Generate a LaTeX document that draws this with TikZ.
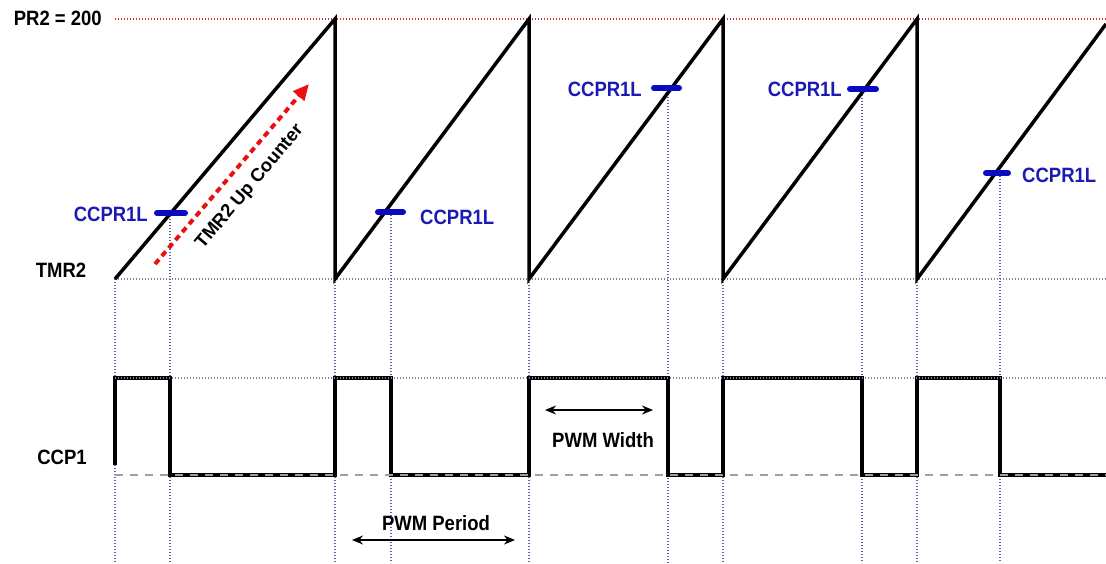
\documentclass[tikz,border=0pt]{standalone}
\usepackage{fontspec}
\setmainfont{Liberation Sans}
\usetikzlibrary{arrows.meta}
\definecolor{mkblue}{HTML}{0A0AC0}
\definecolor{txblue}{HTML}{1A1AB4}
\definecolor{guideblue}{HTML}{6060A8}
\definecolor{guidegray}{HTML}{8080A0}
\definecolor{dashgray}{HTML}{A0A0A0}
\definecolor{prred}{HTML}{D03030}
\definecolor{arrred}{HTML}{E81010}
\newcommand{\tx}[1]{\scalebox{1}[1.12]{#1}}
\begin{document}
\begin{tikzpicture}[x=1pt,y=-1pt,
  lbl/.style={font=\fontsize{18.5}{20}\selectfont\bfseries, inner sep=0pt},
  bluelbl/.style={lbl, text=txblue},
  wave/.style={line width=3.5pt, black, line join=miter},
  marker/.style={line width=6pt, mkblue, line cap=round},
  vguide/.style={guideblue, line width=1.3pt, dash pattern=on 1.3pt off 1.7pt},
  hguide/.style={guidegray, line width=1.3pt, dash pattern=on 1.3pt off 1.7pt},
  lowguide/.style={dashgray, line width=1.4pt, dash pattern=on 8pt off 7pt},
  dimarrow/.style={line width=1.7pt, black, {Stealth[length=11pt,width=9pt]}-{Stealth[length=11pt,width=9pt]}}
]
\useasboundingbox (0,0) rectangle (1106,563);

% key abscissae
\coordinate (t0) at (115,279);
\coordinate (t1) at (335,279);
\coordinate (t2) at (529,279);
\coordinate (t3) at (723,279);
\coordinate (t4) at (917,279);
\coordinate (tend) at (1106,279);
\coordinate (p1) at (335,19);
\coordinate (p2) at (529,19);
\coordinate (p3) at (723,19);
\coordinate (p4) at (917,19);
\coordinate (p5) at (1106,24);
\coordinate (prs) at (115,19);
\coordinate (pre) at (1106,19);

% reference lines
\draw[prred, line width=1.3pt, dash pattern=on 1.3pt off 1.7pt] (prs) -- (pre);
\draw[hguide] (t0) -- (tend);

% vertical guides
\foreach \x in {115,335,529,723,917} \draw[vguide] (\x,279) -- (\x,563);
\coordinate (m1) at (170,213);
\coordinate (m2) at (391,212);
\coordinate (m3) at (668,88);
\coordinate (m4) at (862,89);
\coordinate (m5) at (1000,173);
\foreach \m in {m1,m2,m3,m4,m5} \draw[vguide] (\m) -- (\m |- 0,563);

% sawtooth
\draw[wave] (t0) -- (p1) -- (t1) -- (p2) -- (t2) -- (p3) -- (t3) -- (p4) -- (t4) -- (p5);

% CCPR1L markers
\draw[marker] (157,213) -- (185,213);
\draw[marker] (378,212) -- (403,212);
\draw[marker] (654,88) -- (679,88);
\draw[marker] (850,89) -- (876,89);
\draw[marker] (986,173) -- (1008,173);

% CCP1 waveform
\coordinate (c0) at (115,465);
\draw[wave] (c0) -- (115,378) -- (170,378) -- (170,475) -- (335,475) -- (335,378) -- (391,378) -- (391,475)
  -- (529,475) -- (529,378) -- (668,378) -- (668,475) -- (723,475) -- (723,378) -- (862,378) -- (862,475)
  -- (917,475) -- (917,378) -- (1000,378) -- (1000,475) -- (1106,475);
\draw[hguide] (115,378) -- (1106,378);
\draw[lowguide] (115,475) -- (1106,475);

% TMR2 up counter arrow
\coordinate (ua) at (155,264);
\coordinate (ub) at (309,84);
\draw[arrred, line width=4pt, dash pattern=on 6pt off 4.5pt, -{Triangle[length=16pt,width=14pt]}] (ua) -- (ub);
\node[lbl, rotate=49.8] (upc) at (250,187) {TMR2 Up Counter};

% labels
\node[lbl, anchor=east] (pr2) at (102,18) {\tx{PR2 = 200}};
\node[lbl] (tmr2) at (61,270) {\tx{TMR2}};
\node[lbl] (ccp1) at (62,457) {\tx{CCP1}};
\node[bluelbl, anchor=east] (l1) at (148,214) {\tx{CCPR1L}};
\node[bluelbl, anchor=west] (l2) at (420,217) {\tx{CCPR1L}};
\node[bluelbl, anchor=east] (l3) at (642,89) {\tx{CCPR1L}};
\node[bluelbl, anchor=east] (l4) at (842,89) {\tx{CCPR1L}};
\node[bluelbl, anchor=west] (l5) at (1022,175) {\tx{CCPR1L}};

% PWM width / period
\coordinate (wa) at (545,410);
\coordinate (wb) at (653,410);
\draw[dimarrow] (wa) -- (wb);
\node[lbl] (pw) at (603,440) {\tx{PWM Width}};
\coordinate (pa) at (352,540);
\coordinate (pb) at (515,540);
\draw[dimarrow] (pa) -- (pb);
\node[lbl] (pp) at (436,523) {\tx{PWM Period}};
\end{tikzpicture}
\end{document}
